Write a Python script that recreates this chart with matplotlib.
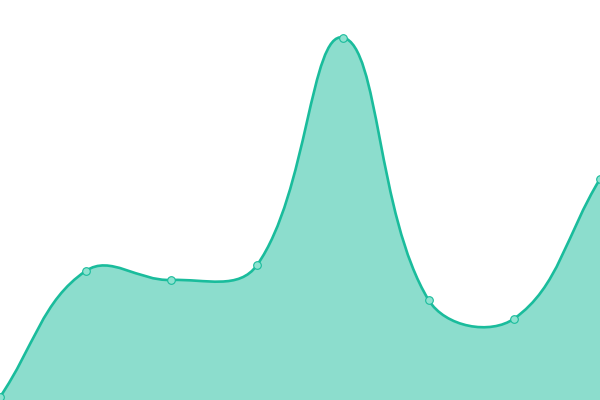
import matplotlib
matplotlib.use("Agg")
import matplotlib.pyplot as plt
import numpy as np
from matplotlib.path import Path
from matplotlib.patches import PathPatch

# values (pixel-height units, 0 = bottom edge)
x_pos = [0, 85.7, 171.4, 257.1, 342.9, 428.6, 514.3, 600]
values = [3, 129, 120, 135, 362.5, 100, 81.5, 221]

LINE = "#1abc9c"
FILL = "#1abc9c"
TENSION = 0.4


def spline_controls(xs, ys, t=TENSION):
    # Chart.js style cardinal spline control points
    pts = np.column_stack([xs, ys]).astype(float)
    n = len(pts)
    prev_cp = pts.copy()
    next_cp = pts.copy()
    for i in range(n):
        p0 = pts[max(i - 1, 0)]
        p1 = pts[i]
        p2 = pts[min(i + 1, n - 1)]
        d01 = np.hypot(*(p1 - p0))
        d12 = np.hypot(*(p2 - p1))
        tot = d01 + d12
        s01 = d01 / tot if tot else 0
        s12 = d12 / tot if tot else 0
        prev_cp[i] = p1 - t * s01 * (p2 - p0)
        next_cp[i] = p1 + t * s12 * (p2 - p0)
    return pts, prev_cp, next_cp


pts, cp_in, cp_out = spline_controls(x_pos, values)
verts = [tuple(pts[0])]
codes = [Path.MOVETO]
for i in range(1, len(pts)):
    verts += [tuple(cp_out[i - 1]), tuple(cp_in[i]), tuple(pts[i])]
    codes += [Path.CURVE4] * 3
line_path = Path(verts, codes)

fill_verts = verts + [(x_pos[-1], 0), (x_pos[0], 0), verts[0]]
fill_codes = codes + [Path.LINETO, Path.LINETO, Path.CLOSEPOLY]
fill_path = Path(fill_verts, fill_codes)

fig = plt.figure(figsize=(6, 4), dpi=100)
ax = fig.add_axes([0, 0, 1, 1])
ax.add_patch(PathPatch(fill_path, facecolor=FILL, alpha=0.5, edgecolor="none"))
ax.add_patch(PathPatch(line_path, facecolor="none", edgecolor=LINE, lw=1.9))
ax.plot(x_pos, values, "o", ms=5.5, mfc="#8ee2d0", mec=LINE, mew=0.8, clip_on=True)
ax.set_xlim(0, 600)
ax.set_ylim(0, 400)
ax.axis("off")
fig.savefig("out.png", dpi=100)
